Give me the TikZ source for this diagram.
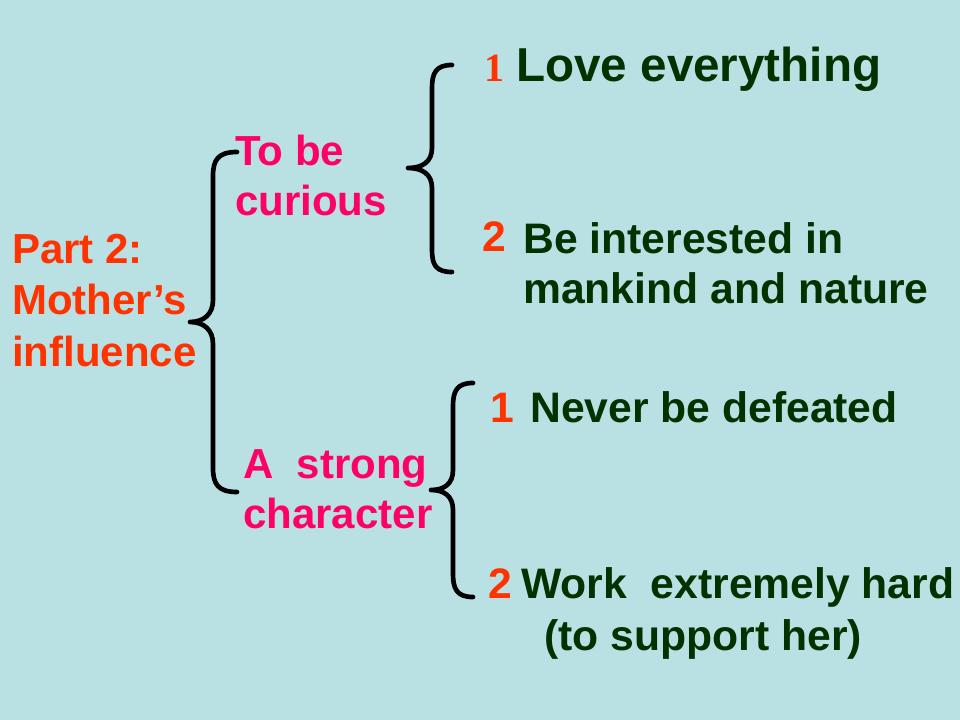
\documentclass[tikz,border=0pt]{standalone}
\usepackage{fontspec}
\setmainfont{Liberation Sans}
\newfontfamily\serifnum{Liberation Serif}
\definecolor{bgc}{HTML}{B9E0E3}
\definecolor{orangered}{HTML}{FF3300}
\definecolor{pinkc}{HTML}{FF0066}
\definecolor{greenc}{HTML}{003300}
\tikzset{
  txt/.style={anchor=base west, inner sep=0pt, font=\fontsize{31.5}{36}\selectfont\bfseries},
  leaffont/.style={anchor=base west, inner sep=0pt, font=\fontsize{32}{36}\selectfont\bfseries},
  bigtxt/.style={anchor=base west, inner sep=0pt, font=\fontsize{35.7}{40}\selectfont\bfseries},
  numtxt/.style={leaffont, text=orangered},
  parttxt/.style={txt, text=orangered},
  subtxt/.style={txt, text=pinkc},
  leaftxt/.style={leaffont, text=greenc},
  bracec/.style={draw=black, line width=3.5pt, line cap=round, line join=round}
}
\begin{document}
\begin{tikzpicture}[x=0.75pt, y=-0.75pt]
\fill[bgc] (0,0) rectangle (960,720);
\useasboundingbox (0,0) rectangle (960,720);

% left title
\node[parttxt] (p1) at (12,264) {Part 2:};
\node[parttxt] (p2) at (12,315) {Mother’s};
\node[parttxt] (p3) at (12,366) {influence};

% sub-topics
\node[subtxt] (a1) at (235,166) {To be};
\node[subtxt] (a2) at (235,216) {curious};
\node[subtxt] (b1) at (243,478) {A\ \ strong};
\node[subtxt] (b2) at (243,528) {character};

% leaves group 1
\node[anchor=base west, inner sep=0pt, text=orangered, font=\serifnum\fontsize{30}{34}\selectfont\bfseries] (n11) at (484,82) {1};
\node[bigtxt, text=greenc] (l11) at (516,82) {Love everything};
\node[numtxt] (n12) at (482,252) {2};
\node[leaftxt] (l12a) at (523,254) {Be interested in};
\node[leaftxt] (l12b) at (523,304) {mankind and nature};

% leaves group 2
\node[numtxt] (n21) at (490,422) {1};
\node[leaftxt] (l21) at (530,422) {Never be defeated};
\node[numtxt] (n22) at (488,598) {2};
\node[leaftxt] (l22a) at (521,598) {Work\ \ extremely hard};
\node[leaftxt] (l22b) at (544,650) {(to support her)};

% brace 1 (main)
\draw[bracec] (237,152) .. controls (218,152) and (213,160) .. (213,176) -- (213,300)
  .. controls (213,314) and (204,322) .. (190,322)
  .. controls (204,322) and (213,330) .. (213,344) -- (213,468)
  .. controls (213,484) and (218,492) .. (237,492);

% brace 2 (to be curious)
\draw[bracec] (452,65) .. controls (436,65) and (432,73) .. (432,88) -- (432,148)
  .. controls (432,162) and (422,168) .. (408,168)
  .. controls (422,168) and (432,174) .. (432,188) -- (432,250)
  .. controls (432,265) and (436,272) .. (452,272);

% brace 3 (a strong character)
\draw[bracec] (473,383) .. controls (457,383) and (453,391) .. (453,406) -- (453,470)
  .. controls (453,484) and (444,490) .. (431,490)
  .. controls (444,490) and (453,496) .. (453,510) -- (453,574)
  .. controls (453,589) and (457,597) .. (473,597);
\end{tikzpicture}
\end{document}
